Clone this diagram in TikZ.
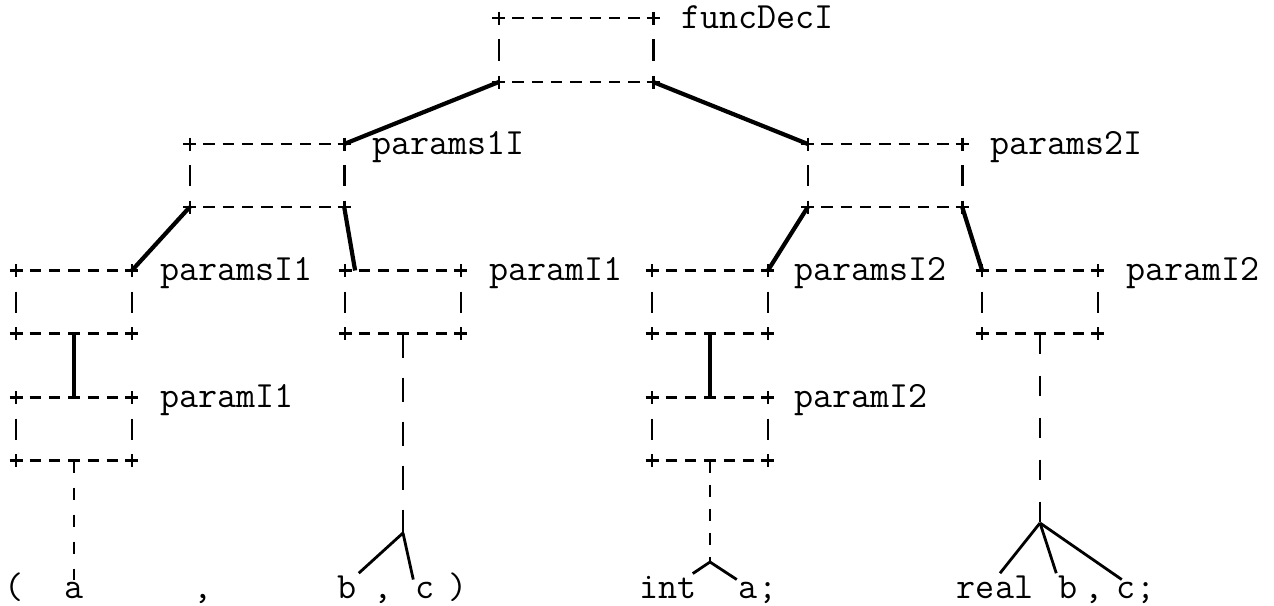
\documentclass[tikz,border=0pt]{standalone}
\usepackage{fontspec}

\newcommand{\treefont}{\fontsize{37}{42}\selectfont\ttfamily\addfontfeatures{FakeBold=0.4}}

\begin{document}
\begin{tikzpicture}[x=1pt,y=-1pt]
        \tikzstyle{box}=[rectangle, inner sep=0pt, outer sep=0pt, minimum height=63pt]
        \tikzstyle{wide}=[box, minimum width=154.4pt]
        \tikzstyle{narrow}=[box, minimum width=115.8pt]
        \tikzstyle{hline}=[line width=2.6pt, dash pattern=on 11.5pt off 7.8pt, shorten <=13.55pt, shorten >=13.55pt]
        \tikzstyle{vline}=[line width=2.6pt, shorten <=21pt, shorten >=21pt]
        \tikzstyle{plus}=[line width=2.6pt]
        \tikzstyle{lab}=[font=\treefont, anchor=base west, inner sep=0pt]
        \tikzstyle{leaf}=[font=\treefont, anchor=base, inner sep=2pt]
        \tikzstyle{link}=[line width=4.2pt]
        \tikzstyle{stem}=[line width=2.6pt]
        \tikzstyle{fork}=[line width=2.8pt]
        \useasboundingbox (0,0) rectangle (1274,605);

        % boxes
        \node[wide, minimum height=64pt] (f) at (576,50) {};
        \node[wide] (p1) at (267,175.5) {};
        \node[wide] (p2) at (885,175.5) {};
        \node[narrow] (s1) at (74,302) {};
        \node[narrow] (q1) at (74,429) {};
        \node[narrow] (r1) at (403,302) {};
        \node[narrow] (s2) at (710,302) {};
        \node[narrow] (q2) at (710,429) {};
        \node[narrow] (r2) at (1040,302) {};

        \foreach \b in {f,p1,p2,s1,q1,r1,s2,q2,r2} {
            \draw[hline] (\b.north west) -- (\b.north east);
            \draw[hline] (\b.south west) -- (\b.south east);
            \draw[vline] (\b.north west) -- (\b.south west);
            \draw[vline] (\b.north east) -- (\b.south east);
            \foreach \c in {north west,north east,south west,south east}
                \draw[plus] (\b.\c) +(-6.5,0) -- +(6.5,0) +(0,-6.5) -- +(0,6.5);
        }

        % box labels
        \node[lab] (fl) at ([xshift=28pt,yshift=-10pt]f.north east) {funcDecI};
        \node[lab] (p1l) at ([xshift=28pt,yshift=-10pt]p1.north east) {params1I};
        \node[lab] (p2l) at ([xshift=28pt,yshift=-10pt]p2.north east) {params2I};
        \node[lab] (s1l) at ([xshift=28pt,yshift=-10pt]s1.north east) {paramsI1};
        \node[lab] (q1l) at ([xshift=28pt,yshift=-10pt]q1.north east) {paramI1};
        \node[lab] (r1l) at ([xshift=28pt,yshift=-10pt]r1.north east) {paramI1};
        \node[lab] (s2l) at ([xshift=26pt,yshift=-10pt]s2.north east) {paramsI2};
        \node[lab] (q2l) at ([xshift=26pt,yshift=-10pt]q2.north east) {paramI2};
        \node[lab] (r2l) at ([xshift=28pt,yshift=-10pt]r2.north east) {paramI2};

        % leaves
        \node[leaf] (lp) at (14,598) {(};
        \node[leaf] (la) at (74,598) {a};
        \node[leaf] (lk1) at (203,598) {,};
        \node[leaf] (lb) at (347,598) {b};
        \node[leaf] (lk2) at (383,598) {,};
        \node[leaf] (lc) at (425,598) {c};
        \node[leaf] (rp) at (458,598) {)};
        \node[leaf] (int) at (668,598) {int};
        \node[leaf] (a2) at (758,598) {a;};
        \node[leaf] (real) at (995,598) {real};
        \node[leaf] (b2) at (1068,598) {b};
        \node[leaf] (lk3) at (1094,598) {,};
        \node[leaf] (c2) at (1136,598) {c;};

        \coordinate (k1) at (403,533);
        \coordinate (k2) at (710,562);
        \coordinate (k3) at (1040,523);

        % tree edges
        \draw[link] (f.south west) -- (p1.north east);
        \draw[link] (f.south east) -- (p2.north west);
        \draw[link] (p1.south west) -- (s1.north east);
        \draw[link] (p1.south east) -- ([xshift=10pt]r1.north west);
        \draw[link] (p2.south west) -- (s2.north east);
        \draw[link] (p2.south east) -- (r2.north west);
        \draw[link, line width=3.5pt] (s1.south) -- (q1.north);
        \draw[link, line width=3.5pt] (s2.south) -- (q2.north);

        \draw[stem, dash pattern=on 12pt off 15pt] (q1.south) -- (la.north);
        \draw[stem, dash pattern=on 24pt off 20pt] (r1.south) -- (k1);
        \draw[stem, dash pattern=on 12pt off 12pt] (q2.south) -- (k2);
        \draw[stem, dash pattern=on 20pt off 22pt] (r2.south) -- (k3);

        \draw[fork] (k1) -- (lb.north east);
        \draw[fork] (k1) -- (lc.north west);
        \draw[fork] (k2) -- ([xshift=-6pt]int.north east);
        \draw[fork] (k2) -- (a2.north west);
        \draw[fork] (k3) -- ([xshift=5pt]real.north);
        \draw[fork] (k3) -- (b2.north west);
        \draw[fork] (k3) -- ([xshift=7pt]c2.north west);
\end{tikzpicture}
\end{document}
